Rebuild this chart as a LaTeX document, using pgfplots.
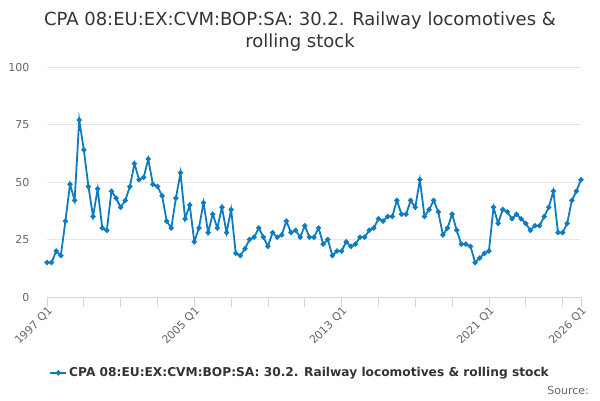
\documentclass[border=0pt]{standalone}
\usepackage{fontspec}
\setmainfont{DejaVu Sans}
\usepackage{pgfplots}
\pgfplotsset{compat=1.18}
\definecolor{linecol}{HTML}{0C7BC0}
\definecolor{gridcol}{HTML}{E6E6E6}
\definecolor{axiscol}{HTML}{CCD6EB}
\definecolor{labcol}{HTML}{666666}
\definecolor{titcol}{HTML}{333333}
\begin{document}
\begin{tikzpicture}
\path[use as bounding box] (0pt,0pt) rectangle (600pt,400pt);
\node[font=\fontsize{18pt}{22pt}\selectfont, text=titcol, align=center] at (300pt,368pt) {CPA 08:EU:EX:CVM:BOP:SA: 30.2. Railway locomotives \&\\rolling stock};
\node[font=\fontsize{11pt}{13pt}\selectfont, text=labcol, anchor=east, inner sep=0pt] at (589pt,10pt) {Source:};
\begin{axis}[
  at={(47pt,103pt)}, anchor=south west,
  scale only axis, width=534pt, height=230pt,
  xmin=0, xmax=116, ymin=0, ymax=100,
  axis x line*=bottom, axis y line*=left,
  x axis line style={draw=axiscol, -},
  y axis line style={draw=none},
  ytick={0,25,50,75,100},
  ymajorgrids, grid style={gridcol, line width=0.8pt},
  ytick style={draw=none},
  xtick={0,32,64,96,116},
  xticklabels={1997 Q1,2005 Q1,2013 Q1,2021 Q1,2026 Q1},
  minor xtick={8,16,24,40,48,56,72,80,88,104,112},
  xtick style={draw=axiscol, line width=0.8pt},
  xminorgrids=false,
  tick align=outside, major tick length=10pt, minor tick length=10pt,
  /pgf/number format/assume math mode=true,
  ticklabel style={font=\fontsize{11pt}{13pt}\selectfont, text=labcol},
  yticklabel style={anchor=east, xshift=-4pt},
  xticklabel style={rotate=45, anchor=north east, inner sep=1pt, xshift=2pt, yshift=2pt},
  legend style={at={(rel axis cs:0.474,-0.330)}, anchor=center, draw=none, fill=none,
    font=\bfseries\fontsize{12.2pt}{14pt}\selectfont, text=titcol, legend cell align=left},
  legend image code/.code={\draw[#1] (0pt,0pt) -- (16pt,0pt); \draw[#1, mark repeat=1] plot coordinates {(8pt,0pt)};},
]
\addplot[color=linecol, line width=1.8pt, mark=*, mark size=1.6pt, mark options={draw=linecol, fill=linecol}] coordinates {
(0,15) (1,15) (2,20) (3,18) (4,33) (5,49) (6,42) (7,77) (8,64) (9,48)
(10,35) (11,47) (12,30) (13,29) (14,46) (15,43) (16,39) (17,42) (18,48) (19,58)
(20,51) (21,52) (22,60) (23,49) (24,48) (25,44) (26,33) (27,30) (28,43) (29,54)
(30,34) (31,40) (32,24) (33,30) (34,41) (35,28) (36,36) (37,30) (38,39) (39,28)
(40,38) (41,19) (42,18) (43,21) (44,25) (45,26) (46,30) (47,26) (48,22) (49,28)
(50,26) (51,27) (52,33) (53,28) (54,29) (55,26) (56,31) (57,26) (58,26) (59,30)
(60,23) (61,25) (62,18) (63,20) (64,20) (65,24) (66,22) (67,23) (68,26) (69,26)
(70,29) (71,30) (72,34) (73,33) (74,35) (75,35) (76,42) (77,36) (78,36) (79,42)
(80,39) (81,51) (82,35) (83,38) (84,42) (85,37) (86,27) (87,30) (88,36) (89,29)
(90,23) (91,23) (92,22) (93,15) (94,17) (95,19) (96,20) (97,39) (98,32) (99,38)
(100,37) (101,34) (102,36) (103,34) (104,32) (105,29) (106,31) (107,31) (108,35) (109,39)
(110,46) (111,28) (112,28) (113,32) (114,42) (115,46) (116,51)
};
\addlegendentry{CPA 08:EU:EX:CVM:BOP:SA: 30.2. Railway locomotives \& rolling stock}
\end{axis}
\end{tikzpicture}
\end{document}
